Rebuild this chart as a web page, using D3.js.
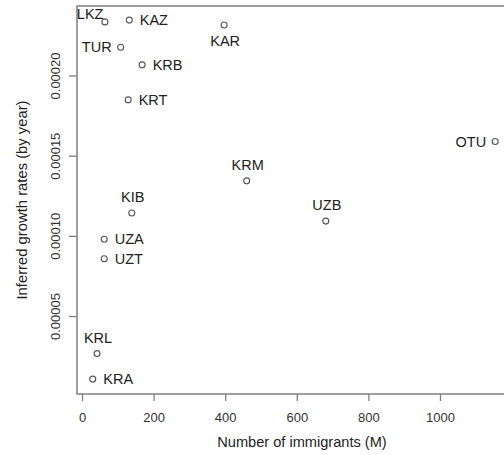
<!DOCTYPE html>
<html>
<head>
<meta charset="utf-8">
<script src="https://cdn.jsdelivr.net/npm/d3@7"></script>
<style>
  body { margin: 0; background: #fff; }
  svg { display: block; font-family: "Liberation Sans", Arial, sans-serif; }
</style>
</head>
<body>
<svg id="chart" width="504" height="455"></svg>
<script>
        // Data
        const populations = ['LKZ', 'KAZ', 'KAR', 'TUR', 'KRB', 'KRT', 'KRM', 'KIB', 'UZA', 'UZT', 'UZB', 'OTU', 'KRL', 'KRA'];
        const immigrants = [64, 132, 397, 108, 168, 129, 460, 139, 62, 62, 681, 1154, 42, 30];
        const growthRates = [0.0002334, 0.0002345, 0.0002315, 0.0002176, 0.0002066, 0.0001848, 0.0001343, 0.0001142, 0.0000979, 0.0000857, 0.0001092, 0.0001588, 0.0000266, 0.0000107];
        const labelSide = ['topleft', 'right', 'below', 'left', 'right', 'right', 'above', 'above', 'right', 'right', 'above', 'left', 'above', 'right'];
        const xTicks = [0, 200, 400, 600, 800, 1000];
        const yTicks = [0.00005, 0.00010, 0.00015, 0.00020];

        const svg = d3.select('#chart');
        const box = { left: 77, top: 6, right: 527, bottom: 394 };

        const x = d3.scaleLinear().domain([-14, 1243]).range([box.left, box.right]);
        const y = d3.scaleLinear().domain([0.0000014, 0.0002433]).range([box.bottom, box.top]);

        const axisColor = '#808080';
        const textColor = '#222';

        // x axis
        const gx = svg.append('g').attr('transform', `translate(0,${box.bottom})`)
            .call(d3.axisBottom(x).tickValues(xTicks).tickSize(7).tickFormat(d3.format('d')));
        gx.select('.domain').remove();
        gx.selectAll('.tick line').attr('stroke', axisColor).attr('stroke-width', 1.3);
        gx.selectAll('.tick text').attr('y', 28).attr('dy', null)
            .attr('fill', '#333').style('font-size', '13px').style('font-family', 'Liberation Sans, Arial, sans-serif');

        // y axis
        const gy = svg.append('g').attr('transform', `translate(${box.left},0)`)
            .call(d3.axisLeft(y).tickValues(yTicks).tickSize(8).tickFormat(d3.format('.5f')));
        gy.select('.domain').remove();
        gy.selectAll('.tick line').attr('stroke', axisColor).attr('stroke-width', 1.3);
        gy.selectAll('.tick text')
            .attr('x', null).attr('dy', null)
            .attr('text-anchor', 'middle')
            .attr('transform', 'translate(-17.5,0) rotate(-90)')
            .attr('fill', '#333').style('font-size', '13px').style('font-family', 'Liberation Sans, Arial, sans-serif');

        // plot box
        svg.append('rect')
            .attr('x', box.left).attr('y', box.top)
            .attr('width', box.right - box.left).attr('height', box.bottom - box.top)
            .attr('fill', 'none').attr('stroke', axisColor).attr('stroke-width', 1.5);

        // axis titles
        svg.append('text')
            .attr('x', (box.left + box.right) / 2 - 0).attr('y', 447)
            .attr('text-anchor', 'middle').attr('fill', textColor)
            .style('font-size', '14.6px').text('Number of immigrants (M)');
        svg.append('text')
            .attr('transform', `translate(27,${(box.top + box.bottom) / 2}) rotate(-90)`)
            .attr('text-anchor', 'middle').attr('fill', textColor)
            .style('font-size', '14.8px').text('Inferred growth rates (by year)');

        // points
        const pts = populations.map((name, i) => ({ name, xv: immigrants[i], yv: growthRates[i], side: labelSide[i] }));

        svg.append('g').selectAll('circle').data(pts).enter().append('circle')
            .attr('cx', d => x(d.xv)).attr('cy', d => y(d.yv)).attr('r', 3)
            .attr('fill', 'none').attr('stroke', '#555').attr('stroke-width', 1.1);

        svg.append('g').selectAll('text').data(pts).enter().append('text')
            .attr('x', d => {
                const px = x(d.xv);
                if (d.side === 'right') return px + 10.5;
                if (d.side === 'left') return px - 9;
                if (d.side === 'topleft') return px - 1.5;
                return px + 1;
            })
            .attr('y', d => {
                const py = y(d.yv);
                if (d.side === 'above') return py - 10.8;
                if (d.side === 'below') return py + 21.2;
                if (d.side === 'topleft') return py - 2.8;
                return py + 5.2;
            })
            .attr('text-anchor', d => d.side === 'right' ? 'start' : (d.side === 'left' || d.side === 'topleft') ? 'end' : 'middle')
            .attr('fill', textColor).style('font-size', '14.5px')
            .text(d => d.name);
</script>
</body>
</html>
